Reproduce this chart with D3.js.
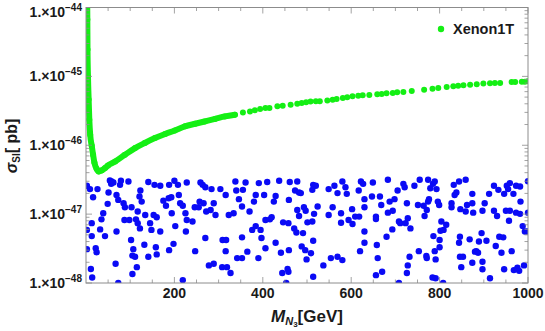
<!DOCTYPE html>
<html>
<head>
<meta charset="utf-8">
<script src="https://cdn.jsdelivr.net/npm/d3@7"></script>
<style>
  body { margin: 0; background: #fff; }
  svg { display: block; font-family: "Liberation Sans", Arial, sans-serif; }
</style>
</head>
<body>
<div id="chart"></div>
<script>
const svgWidth = 545;
const svgHeight = 331;

// plot frame (pixels)
const frame = { left: 86, right: 528, top: 7.5, bottom: 283 };

// x ticks (GeV) and y decades (log10 pb)
const massTicks = [200, 400, 600, 800, 1000];
const decadeTicks = [-48, -47, -46, -45, -44];

// Xenon1T limit, mass in GeV, sigma in pb
const greenMass = [2.7, 3, 3.4, 4.5, 6, 7.5, 9.5, 13, 16, 19,
    24, 29, 35, 43, 50, 66, 88, 111, 133, 156,
    179, 201, 224, 247, 269, 292, 314, 337,
    355, 371, 382, 394, 406, 415, 433, 445, 463, 478,
    488, 498, 508, 520, 529, 546, 558, 567, 581, 591,
    603, 616, 626, 641, 659, 669, 680, 694, 704, 718,
    737, 765, 784, 797, 816, 831, 842, 854, 869, 884,
    899, 914, 925, 937, 963, 971, 986, 993, 999];
const greenSigma = [1.2e-44, 6.7e-45, 2.45e-45, 9.9e-46, 4.6e-46, 2.35e-46, 1.42e-46, 9.8e-47, 7.3e-47, 5.6e-47,
    4.55e-47, 4.16e-47, 4.3e-47, 4.66e-47, 5.1e-47, 5.81e-47, 7.27e-47, 9.1e-47, 1.08e-46, 1.27e-46,
    1.46e-46, 1.64e-46, 1.88e-46, 2.05e-46, 2.22e-46, 2.41e-46, 2.62e-46, 2.78e-46,
    3.0e-46, 3.10e-46, 3.21e-46, 3.36e-46, 3.48e-46, 3.48e-46, 3.67e-46, 3.76e-46, 3.88e-46, 4.02e-46,
    4.11e-46, 4.20e-46, 4.30e-46, 4.34e-46, 4.34e-46, 4.48e-46, 4.59e-46, 4.70e-46, 4.86e-46, 4.96e-46,
    5.13e-46, 5.25e-46, 5.30e-46, 5.37e-46, 5.48e-46, 5.56e-46, 5.67e-46, 5.74e-46, 5.86e-46, 5.94e-46,
    6.14e-46, 6.41e-46, 6.63e-46, 6.79e-46, 7.03e-46, 7.17e-46, 7.33e-46, 7.41e-46, 7.58e-46, 7.66e-46,
    7.85e-46, 7.93e-46, 8.03e-46, 8.03e-46, 8.30e-46, 8.30e-46, 8.39e-46, 8.39e-46, 8.47e-46];
// the low-mass part is dense enough to look like a solid band
const greenDenseMax = 340;

// scan points, mass in GeV, sigma in units of 1e-47 pb
const blueMass = [58, 57, 79, 77, 96, 141, 155, 168, 188, 200,
    208, 228, 259, 264, 270, 284, 304, 316, 338, 340,
    355, 361, 391, 403, 410, 437, 461, 473, 478, 482,
    2, 9, 26, 16, 51, 49, 69, 73, 85, 88,
    103, 123, 121, 126, 117, 39, 35, 13, 32, 2,
    13, 43, 69, 87, 98, 113, 117, 122, 134, 145,
    148, 153, 160, 168, 175, 181, 187, 193, 194, 210,
    213, 219, 225, 228, 241, 246, 255, 257, 266, 272,
    282, 289, 293, 323, 334, 346, 353, 370, 384, 380,
    384, 395, 406, 416, 420, 425, 429, 446, 458, 459,
    471, 478, 482, 501, 2, 22, 24, 11, 14, 67,
    102, 107, 105, 111, 115, 105, 73, 132, 141, 158,
    160, 188, 198, 202, 219, 226, 247, 270, 278, 289,
    309, 317, 316, 308, 319, 327, 342, 353, 353, 365,
    376, 390, 397, 406, 429, 441, 444, 456, 458, 453,
    459, 476, 488, 496, 499, 514, 520, 512, 486, 493,
    497, 516, 524, 512, 491, 514, 509, 537, 514, 549,
    562, 569, 580, 587, 590, 558, 549, 577, 577, 594,
    602, 603, 609, 617, 622, 618, 627, 630, 630, 630,
    630, 620, 649, 647, 656, 656, 658, 660, 656, 670,
    665, 668, 683, 687, 683, 694, 680, 693, 698, 705,
    708, 711, 718, 721, 723, 728, 726, 734, 732, 728,
    726, 743, 751, 755, 764, 766, 753, 770, 771, 774,
    779, 774, 776, 771, 785, 789, 793, 796, 799, 786,
    789, 800, 791, 804, 802, 800, 809, 815, 784, 791,
    808, 827, 827, 832, 834, 838, 844, 846, 844, 847,
    846, 853, 849, 859, 859, 862, 868, 874, 874, 874,
    880, 883, 876, 887, 889, 895, 897, 897, 897, 902,
    906, 912, 914, 923, 923, 927, 930, 933, 935, 940,
    944, 946, 946, 952, 950, 955, 959, 959, 957, 967,
    973, 982, 973, 982, 983, 963, 968, 976, 980, 988,
    991, 993, 998, 1000, 1000, 54, 62, 554, 569, 580,
    708];
const blueSigma = [2.97, 2.75, 3.05, 2.66, 2.97, 2.92, 2.66, 2.58, 2.66, 3.05,
    2.66, 2.88, 2.88, 2.66, 2.46, 2.31, 2.31, 1.90, 2.97, 2.20,
    2.25, 2.88, 2.82, 1.90, 2.92, 3.05, 2.92, 2.20, 2.97, 2.06,
    2.58, 2.31, 2.31, 1.76, 2.06, 1.41, 1.90, 1.61, 1.44, 1.26,
    1.26, 2.20, 1.80, 1.52, 1.09, 1.03, 0.84, 0.74, 0.60, 0.59,
    0.48, 0.48, 0.56, 0.82, 0.82, 0.84, 0.74, 0.62, 0.97, 0.74,
    0.59, 0.97, 0.90, 0.56, 1.57, 1.32, 1.70, 1.76, 1.03, 1.90,
    1.44, 1.32, 1.03, 0.82, 0.78, 1.26, 1.26, 1.52, 1.44, 1.09,
    1.15, 1.44, 0.97, 0.97, 1.03, 1.65, 1.29, 1.09, 1.90, 1.52,
    0.67, 0.59, 0.82, 0.84, 0.90, 1.52, 1.84, 0.76, 0.74, 1.61,
    0.62, 1.15, 0.94, 0.76, 0.31, 0.32, 0.28, 0.16, 0.12, 0.19,
    0.42, 0.31, 0.25, 0.24, 0.17, 0.135, 0.10, 0.36, 0.24, 0.33,
    0.26, 0.30, 0.37, 0.67, 0.11, 0.56, 0.29, 0.45, 0.18, 0.19,
    0.42, 0.42, 0.29, 0.17, 0.17, 0.14, 0.23, 0.23, 0.46, 0.285,
    0.59, 0.23, 0.45, 0.32, 0.385, 0.275, 0.14, 0.16, 0.146, 0.10,
    0.30, 0.54, 0.34, 0.30, 0.22, 2.66, 2.58, 2.25, 2.02, 1.26,
    1.12, 1.01, 1.29, 0.78, 0.53, 0.41, 0.27, 0.18, 0.123, 2.31,
    2.58, 2.02, 2.97, 2.46, 1.97, 1.26, 0.97, 1.03, 0.75, 0.82,
    1.18, 0.72, 0.92, 2.20, 2.97, 0.92, 2.75, 1.65, 1.26, 0.56,
    0.385, 0.29, 2.88, 1.80, 0.92, 0.85, 0.356, 0.23, 0.13, 0.146,
    1.80, 1.36, 3.15, 1.52, 1.05, 1.12, 0.47, 0.60, 1.65, 2.20,
    0.78, 0.74, 2.75, 2.46, 0.74, 0.87, 1.44, 0.62, 0.24, 0.18,
    0.14, 2.58, 1.36, 3.15, 1.32, 0.94, 0.29, 0.246, 0.23, 3.15,
    2.38, 1.52, 1.65, 1.15, 2.75, 2.97, 2.31, 1.52, 1.36, 0.48,
    0.29, 0.33, 0.22, 0.78, 0.575, 0.42, 0.59, 0.70, 0.12, 0.117,
    0.10, 1.44, 1.26, 2.66, 1.90, 2.06, 2.97, 0.47, 0.385, 1.18,
    0.24, 0.24, 0.17, 3.15, 1.09, 1.36, 0.43, 1.44, 1.97, 0.197,
    0.285, 0.29, 1.05, 0.275, 0.40, 0.53, 0.203, 0.158, 1.12, 1.44,
    0.41, 1.97, 0.117, 2.58, 1.12, 0.344, 0.94, 2.25, 0.47, 0.275,
    0.46, 0.158, 1.97, 2.58, 1.12, 2.31, 2.82, 1.12, 0.80, 1.97,
    2.58, 2.52, 1.05, 1.01, 1.52, 0.29, 0.154, 0.167, 0.15, 0.67,
    0.18, 0.56, 0.56, 1.05, 3.0, 3.08, 2.88, 0.23, 0.24, 0.215,
    0.10];

const legendLabel = "Xenon1T";

const green = "#14ef14";
const blue = "#0a0af5";
const frameColor = "#8c8c8c";

const xScale = d3.scaleLinear()
    .domain([0, 1000])
    .range([frame.left, frame.right]);
const yScale = d3.scaleLog()
    .domain([1e-48, 1e-44])
    .range([frame.bottom, frame.top]);

const svg = d3.select("#chart").append("svg")
    .attr("width", svgWidth)
    .attr("height", svgHeight);

svg.append("clipPath").attr("id", "plot-clip")
    .append("rect")
    .attr("x", frame.left)
    .attr("y", frame.top)
    .attr("width", frame.right - frame.left)
    .attr("height", frame.bottom - frame.top);

const plot = svg.append("g").attr("clip-path", "url(#plot-clip)");

// blue scan points
const bluePts = blueMass.map((m, i) => ({ m: m, s: blueSigma[i] * 1e-47 }));
plot.selectAll("circle.scan")
    .data(bluePts)
    .enter()
    .append("circle")
    .attr("class", "scan")
    .attr("cx", d => xScale(d.m))
    .attr("cy", d => yScale(d.s))
    .attr("r", 3.2)
    .attr("fill", blue);

// green limit
const greenPts = greenMass.map((m, i) => ({ m: m, s: greenSigma[i] }));
const line = d3.line()
    .x(d => xScale(d.m))
    .y(d => yScale(d.s))
    .curve(d3.curveMonotoneX);
plot.append("path")
    .datum(greenPts.filter(d => d.m <= greenDenseMax))
    .attr("d", line)
    .attr("fill", "none")
    .attr("stroke", green)
    .attr("stroke-width", 6)
    .attr("stroke-linejoin", "round")
    .attr("stroke-linecap", "round");
plot.selectAll("circle.limit")
    .data(greenPts)
    .enter()
    .append("circle")
    .attr("class", "limit")
    .attr("cx", d => xScale(d.m))
    .attr("cy", d => yScale(d.s))
    .attr("r", 3)
    .attr("fill", green);

// frame
svg.append("rect")
    .attr("x", frame.left)
    .attr("y", frame.top)
    .attr("width", frame.right - frame.left)
    .attr("height", frame.bottom - frame.top)
    .attr("fill", "none")
    .attr("stroke", frameColor)
    .attr("stroke-width", 1);

const ticks = svg.append("g")
    .attr("stroke", frameColor)
    .attr("stroke-width", 0.8);

// x ticks: majors every 200, minors every 50
const xMinor = d3.range(50, 1000, 50).filter(v => v % 200 !== 0);
[[massTicks, 6], [xMinor, 3.5]].forEach(([vals, len]) => {
    vals.forEach(v => {
        const x = xScale(v);
        ticks.append("line").attr("x1", x).attr("x2", x)
            .attr("y1", frame.bottom).attr("y2", frame.bottom - len);
        ticks.append("line").attr("x1", x).attr("x2", x)
            .attr("y1", frame.top).attr("y2", frame.top + len);
    });
});

// y ticks: decades and 2..9 minors
const yMinor = [];
decadeTicks.slice(0, -1).forEach(e => {
    d3.range(2, 10).forEach(k => yMinor.push(k * Math.pow(10, e)));
});
const yMajor = decadeTicks.map(e => Math.pow(10, e));
[[yMajor, 6], [yMinor, 3.5]].forEach(([vals, len]) => {
    vals.forEach(v => {
        const y = yScale(v);
        ticks.append("line").attr("x1", frame.left).attr("x2", frame.left + len)
            .attr("y1", y).attr("y2", y);
        ticks.append("line").attr("x1", frame.right).attr("x2", frame.right - len)
            .attr("y1", y).attr("y2", y);
    });
});

// x tick labels
svg.append("g").selectAll("text")
    .data(massTicks)
    .enter()
    .append("text")
    .attr("x", d => xScale(d))
    .attr("y", 298)
    .attr("text-anchor", "middle")
    .attr("font-size", 14)
    .attr("font-weight", "bold")
    .attr("fill", "#1a1a1a")
    .text(d => d);

// y tick labels
const yLabels = svg.append("g").selectAll("text")
    .data(decadeTicks)
    .enter()
    .append("text")
    .attr("x", 82)
    .attr("y", d => Math.max(yScale(Math.pow(10, d)), 12) + 5)
    .attr("text-anchor", "end")
    .attr("font-size", 14)
    .attr("font-weight", "bold")
    .attr("fill", "#1a1a1a");
yLabels.append("tspan").text("1.\u00d710");
yLabels.append("tspan")
    .attr("dy", -6)
    .attr("font-size", 10)
    .text(d => "\u2212" + Math.abs(d));

// axis titles
const xTitle = svg.append("text")
    .attr("x", 307)
    .attr("y", 322)
    .attr("text-anchor", "middle")
    .attr("font-size", 17)
    .attr("font-weight", "bold")
    .attr("fill", "#1a1a1a");
xTitle.append("tspan").attr("font-style", "italic").text("M");
xTitle.append("tspan").attr("font-style", "italic").attr("font-size", 11).attr("dy", 3).text("N");
xTitle.append("tspan").attr("font-size", 8).attr("dy", 2).text("3");
xTitle.append("tspan").attr("dy", -5).text("[GeV]");

const yTitle = svg.append("text")
    .attr("transform", "translate(17,146) rotate(-90)")
    .attr("text-anchor", "middle")
    .attr("font-size", 16)
    .attr("font-weight", "bold")
    .attr("fill", "#1a1a1a");
yTitle.append("tspan").attr("font-style", "italic").text("\u03c3");
yTitle.append("tspan").attr("font-size", 10).attr("dy", 3).text("SI");
yTitle.append("tspan").attr("dy", -3).text("[ pb]");

// legend
svg.append("circle")
    .attr("cx", 441)
    .attr("cy", 29)
    .attr("r", 3.2)
    .attr("fill", green);
svg.append("text")
    .attr("x", 453)
    .attr("y", 34)
    .attr("font-size", 14.5)
    .attr("font-weight", "bold")
    .attr("fill", "#1a1a1a")
    .text(legendLabel);
</script>
</body>
</html>
